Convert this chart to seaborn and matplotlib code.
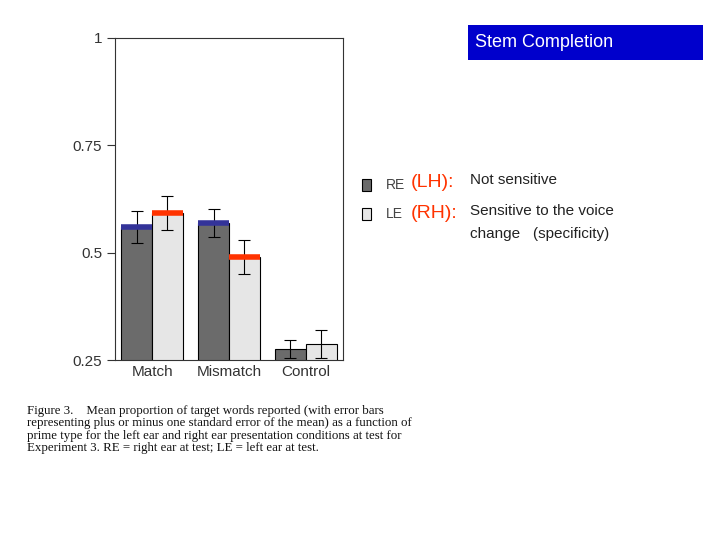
import matplotlib
matplotlib.use("Agg")
import matplotlib.pyplot as plt
import seaborn as sns
import pandas as pd

categories = ["Match", "Mismatch", "Control"]
ears = ["RE", "LE"]
re_vals = [0.56, 0.569, 0.276]
le_vals = [0.592, 0.49, 0.287]
re_err = [0.037, 0.033, 0.022]
le_err = [0.04, 0.04, 0.033]
yticks = [0.25, 0.5, 0.75, 1]
ytick_labels = ["0.25", "0.5", "0.75", "1"]

df = pd.DataFrame({
    "cat": categories * 2,
    "ear": ["RE"] * 3 + ["LE"] * 3,
    "val": re_vals + le_vals,
})

sns.set_style("white")
plt.rcParams['font.family'] = ['Liberation Sans', 'DejaVu Sans']
fig = plt.figure(figsize=(7.2, 5.4), dpi=100)
ax = fig.add_axes([0.160, 0.333, 0.316, 0.597])
sns.barplot(data=df, x="cat", y="val", hue="ear", hue_order=ears,
            palette=["#6b6b6b", "#e6e6e6"], edgecolor="black", linewidth=0.8,
            width=0.8, legend=False, ax=ax, errorbar=None)

errs = {"RE": re_err, "LE": le_err}
vals = {"RE": re_vals, "LE": le_vals}
caps = {"RE": "#333399", "LE": "#ff3300"}
for container, ear in zip(ax.containers, ears):
    for i, (bar, v, e) in enumerate(zip(container, vals[ear], errs[ear])):
        xc = bar.get_x() + bar.get_width() / 2
        ax.errorbar(xc, v, yerr=e, color="black", capsize=4, lw=0.8, capthick=0.8)
        if categories[i] != "Control":
            ax.hlines(v, bar.get_x(), bar.get_x() + bar.get_width(), color=caps[ear], lw=4, zorder=5)

ax.set_ylim(0.25, 1)
ax.set_xlim(-0.48, 2.48)
ax.set_yticks(yticks)
ax.set_yticklabels(ytick_labels, fontsize=11, color="#333333")
ax.tick_params(axis="y", left=True, length=6, width=0.8, colors="#333333")
ax.tick_params(axis="x", labelsize=11, colors="#333333", length=0)
ax.set_xlabel("")
ax.set_ylabel("")
for s in ax.spines.values():
    s.set_color("#333333")
    s.set_linewidth(0.8)

fig.patches.append(plt.Rectangle((0.650, 0.888), 0.326, 0.066, transform=fig.transFigure,
                                 fc="#0000cc", ec="none", zorder=0))
fig.text(0.660, 0.921, "Stem Completion", fontsize=13, color="white", ha="left", va="center")

fig.patches.append(plt.Rectangle((0.503, 0.647), 0.012, 0.022, transform=fig.transFigure,
                                 fc="#6b6b6b", ec="black", lw=0.8))
fig.patches.append(plt.Rectangle((0.503, 0.592), 0.012, 0.022, transform=fig.transFigure,
                                 fc="#e6e6e6", ec="black", lw=0.8))
fig.text(0.536, 0.658, "RE", fontsize=10, color="#444444", va="center")
fig.text(0.571, 0.662, "(LH):", fontsize=14, color="#ff3300", va="center")
fig.text(0.653, 0.667, "Not sensitive", fontsize=11, color="#222222", va="center")
fig.text(0.536, 0.604, "LE", fontsize=10, color="#444444", va="center")
fig.text(0.571, 0.604, "(RH):", fontsize=14, color="#ff3300", va="center")
fig.text(0.653, 0.610, "Sensitive to the voice", fontsize=11, color="#222222", va="center")
fig.text(0.653, 0.567, "change   (specificity)", fontsize=11, color="#222222", va="center")

cap = ("Figure 3.    Mean proportion of target words reported (with error bars\n"
       "representing plus or minus one standard error of the mean) as a function of\n"
       "prime type for the left ear and right ear presentation conditions at test for\n"
       "Experiment 3. RE = right ear at test; LE = left ear at test.")
fig.text(0.038, 0.250, cap, fontsize=9.3, family="Liberation Serif", va="top",
         linespacing=1.05, color="#111111")

fig.savefig("out.png", dpi=100)
